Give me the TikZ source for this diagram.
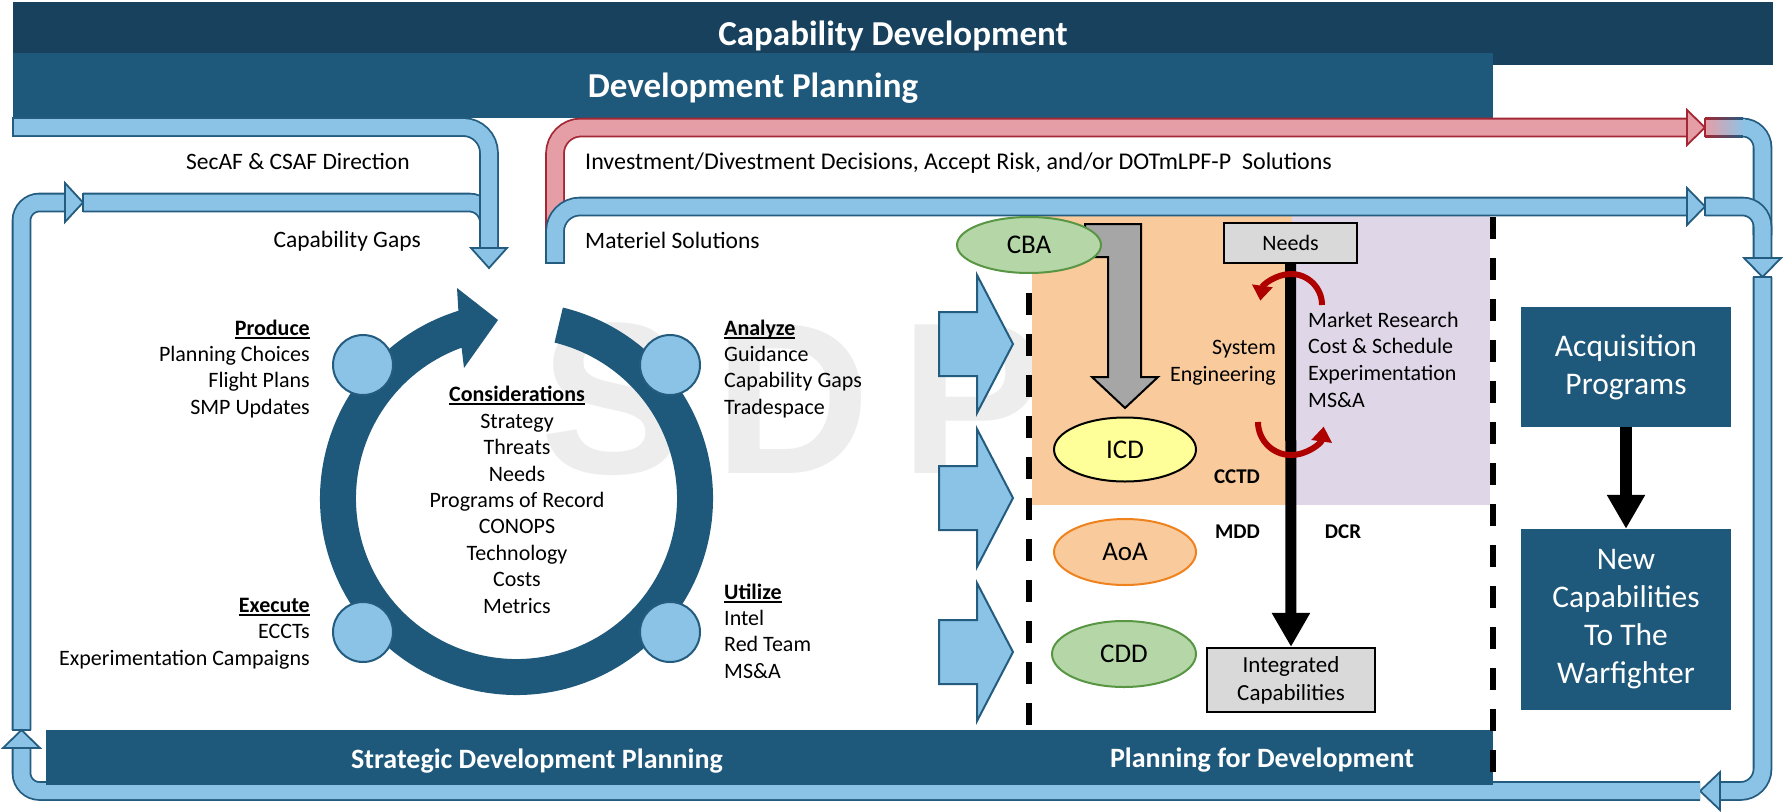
\documentclass[tikz,border=0pt]{standalone}
\usepackage{fontspec}
\setmainfont{Carlito}
\newfontfamily\wmfont{Liberation Sans}
\usetikzlibrary{arrows.meta,shapes.geometric}

\definecolor{capdark}{RGB}{23,65,93}
\definecolor{capmid}{RGB}{30,88,122}
\definecolor{bandfill}{RGB}{139,195,230}
\definecolor{bandline}{RGB}{36,92,128}
\definecolor{redfill}{RGB}{229,158,166}
\definecolor{redline}{RGB}{163,40,52}
\definecolor{orangebg}{RGB}{249,203,156}
\definecolor{purplebg}{RGB}{223,215,232}
\definecolor{boxgray}{RGB}{217,217,217}
\definecolor{arrowgray}{RGB}{166,166,166}
\definecolor{greenfill}{RGB}{181,215,168}
\definecolor{greenline}{RGB}{88,150,68}
\definecolor{icdfill}{RGB}{255,255,153}
\definecolor{aoaline}{RGB}{240,130,30}
\definecolor{curlred}{RGB}{175,0,0}
\definecolor{wmgray}{RGB}{237,237,237}

% bold heading with a heavy underline
\newcommand{\hdr}[1]{\setbox0=\hbox{\bfseries #1}\rlap{\rule[-3.5pt]{\wd0}{2pt}}\box0}

\tikzset{
  band/.style={draw=bandline, double=bandfill, double distance=16pt, line width=1.8pt, rounded corners=20pt},
  redband/.style={band, draw=redline, double=redfill},
  bandend/.style={draw=bandline, line width=1.8pt},
  bandhead/.style={draw=bandline, fill=bandfill, line width=1.8pt, line join=miter},
  redhead/.style={bandhead, draw=redline, fill=redfill},
  chevron/.style={draw=bandline, fill=bandfill, line width=2pt, line join=miter},
  dot/.style={circle, minimum size=60pt, inner sep=0pt, fill=bandfill, draw=bandline, line width=2pt},
  oval/.style={ellipse, inner sep=0pt, line width=2pt, font=\fontsize{27}{30}\selectfont},
  graybox/.style={rectangle, draw=black, fill=boxgray, line width=2.2pt, inner sep=0pt, align=center},
  bluebox/.style={rectangle, fill=capmid, text=white, inner sep=0pt, align=center, font=\fontsize{31.5}{38}\selectfont},
  title/.style={text=white, inner sep=0pt, anchor=base, font=\fontsize{35}{40}\selectfont\bfseries},
  bartitle/.style={text=white, inner sep=0pt, anchor=base, font=\fontsize{28}{32}\selectfont\bfseries},
  toplbl/.style={inner sep=0pt, font=\fontsize{23.5}{28}\selectfont},
  body/.style={inner sep=0pt, font=\fontsize{22}{26.3}\selectfont},
  boldlbl/.style={inner sep=0pt, anchor=base, font=\fontsize{21}{24}\selectfont\bfseries},
  dashline/.style={line width=6pt, dash pattern=on 22pt off 19pt},
  blkarrow/.style={line width=11pt, -{Triangle[length=34pt, width=36pt]}},
  redcurl/.style={draw=curlred, line width=6pt, -{Triangle[length=15pt, width=20pt]}},
  wmark/.style={text=wmgray, inner sep=0pt, anchor=base west, font=\fontsize{216}{216}\selectfont\wmfont\bfseries}
}

\begin{document}
\begin{tikzpicture}[x=1pt, y=-1pt]
    \useasboundingbox (0,0) rectangle (1787,811);
    \fill[white] (0,0) rectangle (1787,811);

    % 1. Watermark behind everything
    \foreach \ch/\xx in {S/540, D/714, P/900}
        \node[wmark] (wm\ch) at (\xx,473) {\ch};

    % 2. Header bars
    \fill[capdark] (13,2) rectangle (1773,65);
    \fill[capmid] (13,53) rectangle (1493,118);
    \node[title] (capdev) at (893,45) {Capability Development};
    \node[title] (devplan) at (753,97) {Development Planning};

    % 3. Shaded areas of the middle panel
    \fill[orangebg] (1032,215) rectangle (1292,505);
    \fill[purplebg] (1292,215) rectangle (1490,505);

    % 4. Left feedback bands
    \coordinate (gapsS) at (83,202.5);
    \coordinate (gapsE) at (489,235);
    \coordinate (secafS) at (13,127);
    \coordinate (secafE) at (489,248);
    \coordinate (loopS) at (21.5,730);
    \coordinate (loopE) at (65,202.5);
    \draw[band] (gapsS) -| (gapsE);
    \draw[bandend] (83,192.7) -- (83,212.3);
    \draw[band, rounded corners=26pt] (secafS) -| (secafE);
    \draw[bandend] (13,117.2) -- (13,136.8);
    \draw[bandhead] (471,248) -- (507,248) -- (489,268) -- cycle;
    \draw[band, rounded corners=18pt] (loopS) |- (loopE);
    \draw[bandend] (11.7,730) -- (31.3,730);
    \draw[bandhead] (65,183) -- (83,202.5) -- (65,222) -- cycle;

    % 5. Decision bands to the right
    \coordinate (redS) at (555,240);
    \coordinate (redE) at (1687,127.5);
    \coordinate (matS) at (555,263);
    \coordinate (matE) at (1687,206.5);
    \draw[redband, rounded corners=26pt] (redS) |- (redE);
    \draw[redhead] (1687,110) -- (1705,127.5) -- (1687,145) -- cycle;
    \draw[band, rounded corners=25pt] (matS) |- (matE);
    \draw[bandend] (545.2,263) -- (564.8,263);
    \draw[bandhead] (1687,188) -- (1705,206.5) -- (1687,225) -- cycle;

    % red fading into blue
    \draw[band] (1705,127.5) -| (1762.5,235);
    \shade[left color=redfill, right color=bandfill] (1705,119.5) rectangle (1745,135.5);
    \shade[left color=redline, right color=bandline] (1705,117.6) rectangle (1743,119.6);
    \shade[left color=redline, right color=bandline] (1705,135.4) rectangle (1743,137.4);
    \draw[bandend, draw=redline] (1705,117.7) -- (1705,137.3);
    \draw[band] (1705,206.5) -| (1762.5,258);
    \draw[bandend] (1705,196.7) -- (1705,216.3);
    \draw[bandhead] (1744,258) -- (1781,258) -- (1762.5,277) -- cycle;

    % 6. Return bands along the right and bottom
    \coordinate (retS) at (1762.5,277);
    \coordinate (retE) at (1720,791);
    \coordinate (botS) at (1700,791);
    \coordinate (botE) at (21.5,748);
    \draw[band, rounded corners=22pt] (retS) |- (retE);
    \draw[bandend] (1752.7,277) -- (1772.3,277);
    \draw[bandhead] (1720,772) -- (1700,791) -- (1720,810) -- cycle;
    \draw[band, rounded corners=18pt] (botS) -| (botE);
    \draw[bandhead] (3,748) -- (40,748) -- (21.5,730) -- cycle;

    % 7. Chevrons into the panel
    \draw[dashline] (1029,293) -- (1029,730);
    \foreach \cy in {344,498,652}
        \draw[chevron] (939,\cy-32) -- (977,\cy-32) -- (977,\cy-69) -- (1013,\cy)
            -- (977,\cy+69) -- (977,\cy+32) -- (939,\cy+32) -- cycle;

    % 8. Panel contents
    \draw[draw=black, fill=arrowgray, line width=2pt, line join=miter]
        (1085,224) -- (1141,224) -- (1141,377) -- (1158,377) -- (1125,408)
        -- (1092,377) -- (1108,377) -- (1108,257) -- (1085,257) -- cycle;
    \node[oval, fill=greenfill, draw=greenline, minimum width=144pt, minimum height=56pt] (cba) at (1029,245) {CBA};
    \node[oval, fill=icdfill, draw=black, minimum width=142pt, minimum height=64pt] (icd) at (1125,449.5) {ICD};
    \node[oval, fill=orangebg, draw=aoaline, minimum width=142pt, minimum height=66pt] (aoa) at (1125,552) {AoA};
    \node[oval, fill=greenfill, draw=greenline, minimum width=144pt, minimum height=66pt] (cdd) at (1124,654) {CDD};

    \node[graybox, minimum width=133pt, minimum height=40pt, font=\fontsize{22}{26}\selectfont] (needs) at (1290.5,243) {Needs};
    \node[graybox, minimum width=168pt, minimum height=64pt, font=\fontsize{23}{28}\selectfont] (integ) at (1291,680) {Integrated\\Capabilities};
    \draw[blkarrow] (needs.south) -- (integ.north);

    \draw[redcurl] ([shift={(1291,305)}]0:31) arc[start angle=0, end angle=-172, radius=31];
    \draw[redcurl] ([shift={(1291,422)}]180:33) arc[start angle=180, end angle=8, radius=33];

    \node[body, align=right, anchor=base east, font=\fontsize{22}{27}\selectfont] (syseng) at (1276,381) {System\\Engineering};
    \node[body, align=left, anchor=base west, font=\fontsize{22}{26.6}\selectfont] (market) at (1308,407) {Market Research\\Cost \& Schedule\\Experimentation\\MS\&A};
    \node[boldlbl] (cctd) at (1237,483) {CCTD};
    \node[boldlbl] (mdd) at (1237.5,538) {MDD};
    \node[boldlbl] (dcr) at (1343,538) {DCR};

    % 9. The planning cycle
    \coordinate (ring) at (516.5,498.5);
    \fill[capmid] ([shift={(ring)}]-76.35:196.5) arc[start angle=-76.35, end angle=252.8, radius=196.5]
        -- (457,288) -- (498,320) -- (464,368)
        -- ([shift={(ring)}]250:160.5) arc[start angle=250, end angle=-76.3, radius=160.5] -- cycle;
    \foreach \nm/\xx/\yy in {prod/363/365, anlz/670/365, exec/363/632, util/670/632}
        \node[dot] (\nm) at (\xx,\yy) {};

    % 10. Acquisition column
    \node[bluebox, minimum width=210pt, minimum height=120pt] (acq) at (1626,367) {Acquisition\\Programs};
    \node[bluebox, minimum width=210pt, minimum height=181pt] (newcap) at (1626,619.5) {New\\Capabilities\\To The\\Warfighter};
    \draw[blkarrow, line width=12pt] (acq) -- (newcap);

    % 11. Bottom bar
    \fill[capmid] (46,730) rectangle (1493,785);
    \node[bartitle] (sdp) at (537,768) {Strategic Development Planning};
    \node[bartitle] (pfd) at (1262,767) {Planning for Development};
    \draw[dashline] (1493,217) -- (1493,790);

    % 12. Labels (multi-line nodes sit on their last baseline)
    \node[toplbl, anchor=base west] (secaf) at (186,169) {SecAF \& CSAF Direction};
    \node[toplbl, anchor=base east] (capgaps) at (421,247) {Capability Gaps};
    \node[toplbl, anchor=base west, font=\fontsize{24}{28}\selectfont] (invest) at (585,169) {Investment/Divestment Decisions, Accept Risk, and/or DOTmLPF-P\ \ Solutions};
    \node[toplbl, anchor=base west] (materiel) at (585,248) {Materiel Solutions};

    \node[body, align=right, anchor=base east] (produce) at (310,414) {\hdr{Produce}\\Planning Choices\\Flight Plans\\SMP Updates};
    \node[body, align=right, anchor=base east] (execute) at (310,665) {\hdr{Execute}\\ECCTs\\Experimentation Campaigns};
    \node[body, align=center, anchor=base, font=\fontsize{22}{26.4}\selectfont] (consid) at (517,613) {\hdr{Considerations}\\Strategy\\Threats\\Needs\\Programs of Record\\CONOPS\\Technology\\Costs\\Metrics};
    \node[body, align=left, anchor=base west] (analyze) at (724,414) {\hdr{Analyze}\\Guidance\\Capability Gaps\\Tradespace};
    \node[body, align=left, anchor=base west] (utilize) at (724,678) {\hdr{Utilize}\\Intel\\Red Team\\MS\&A};
\end{tikzpicture}
\end{document}
